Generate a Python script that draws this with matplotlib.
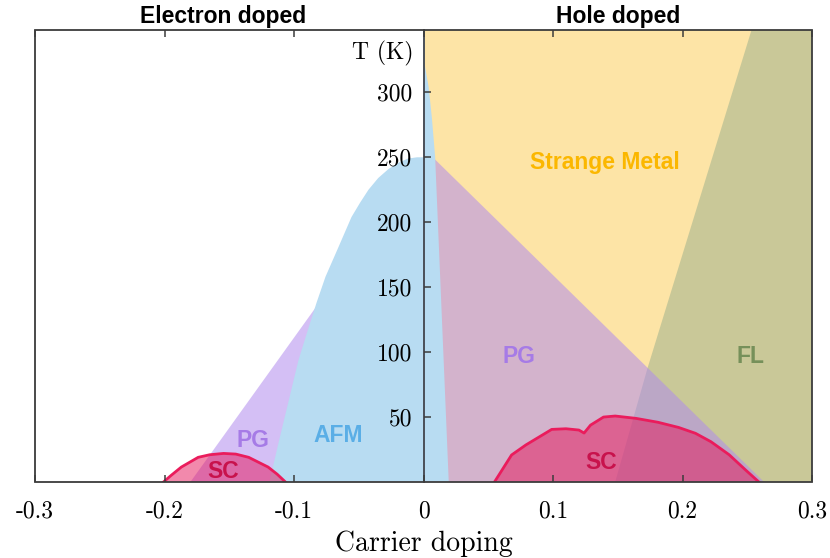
import matplotlib
matplotlib.use("Agg")
import matplotlib.pyplot as plt
from matplotlib.patches import Polygon, Rectangle
from matplotlib.transforms import blended_transform_factory

# ---- axis extents -------------------------------------------------------
x_min, x_max = -0.3, 0.3
t_max = 348

x_ticks = [-0.3, -0.2, -0.1, 0.0, 0.1, 0.2, 0.3]
x_tick_labels = ["-0.3", "-0.2", "-0.1", "0", "0.1", "0.2", "0.3"]
t_ticks = [50, 100, 150, 200, 250, 300]
t_tick_labels = ["50", "100", "150", "200", "250", "300"]

# ---- phase boundaries (doping, temperature in K) ------------------------
# antiferromagnet, electron-doped side (left edge, bottom to apex)
afm_e_x = [-0.119, -0.112, -0.104, -0.0965, -0.089, -0.0826, -0.0757,
           -0.0656, -0.0556, -0.049, -0.0425, -0.035, -0.027, -0.019,
           -0.012, -0.005, 0.0]
afm_e_t = [0, 30, 63, 94, 118, 138, 158, 181, 204, 215, 225, 234, 241,
           246, 249, 250, 250]
# antiferromagnet, hole-doped sliver (right edge, top to bottom)
afm_h_x = [0.0, 0.0015, 0.004, 0.0065, 0.009, 0.0195]
afm_h_t = [326, 318, 304, 280, 250, 0]

# pseudogap
pg_x = [-0.18, 0.0, 0.0, 0.263]
pg_t = [0, 250, 257, 0]

# Fermi-liquid crossover (top to bottom)
fl_x = [0.2533, 0.173, 0.148]
fl_t = [348, 87.7, 0]

# superconducting domes
sc_e_x = [-0.2008, -0.195, -0.187, -0.174, -0.165, -0.1544, -0.145,
          -0.135, -0.12, -0.113, -0.1066]
sc_e_t = [0, 5, 11.5, 19, 21, 22, 21.5, 19, 11.5, 6, 0]
sc_h_x = [0.0548, 0.068, 0.079, 0.099, 0.110, 0.120, 0.124, 0.129, 0.139,
          0.148, 0.164, 0.181, 0.197, 0.210, 0.222, 0.236, 0.249, 0.259]
sc_h_t = [0, 20.8, 28.5, 40.5, 41, 40, 37.7, 43.8, 50, 50.8, 49, 46, 42,
          37.5, 31, 21, 9, 0]

# ---- region labels -------------------------------------------------------
labels = ["Strange Metal", "FL", "PG", "PG", "AFM", "SC", "SC"]
label_x = [0.14, 0.2525, 0.0734, -0.132, -0.0656, -0.1544, 0.1375]
label_t = [246, 97, 97, 32, 36, 8, 15]
label_colors = ["#fbb700", "#76905a", "#a67be6", "#a67be6", "#5aaee6",
                "#c8124c", "#c8124c"]

# ---- colours -------------------------------------------------------------
c_sm = "#fde4a6"
c_fl = "#c9c898"
c_pg = (177 / 255, 140 / 255, 237 / 255)
c_afm = "#b8dcf2"
c_sc = (230 / 255, 20 / 255, 90 / 255)
c_sc_edge = "#ea1c5c"

serif = "cmr10"
sans = ["Liberation Sans", "DejaVu Sans"]

fig = plt.figure(figsize=(8.3, 5.58), dpi=100)
ax = fig.add_axes([35 / 830, 1 - 482 / 558, (812 - 35) / 830, (482 - 30) / 558])
ax.set_xlim(x_min, x_max)
ax.set_ylim(0, t_max)

# strange metal background on the hole-doped side
ax.fill_between([0.0, x_max], 0, t_max, color=c_sm, lw=0, zorder=1)

# Fermi liquid
fl_poly = list(zip(fl_x, fl_t)) + [(x_max, 0), (x_max, t_max)]
ax.add_patch(Polygon(fl_poly, closed=True, fc=c_fl, ec="none", zorder=2))

# pseudogap (translucent)
ax.add_patch(Polygon(list(zip(pg_x, pg_t)), closed=True, fc=c_pg,
                     alpha=0.55, ec="none", zorder=3))

# antiferromagnet
afm_poly = list(zip(afm_e_x + afm_h_x, afm_e_t + afm_h_t))
ax.add_patch(Polygon(afm_poly, closed=True, fc=c_afm, ec="none", zorder=4))

# superconducting domes
for xs, ts in [(sc_e_x, sc_e_t), (sc_h_x, sc_h_t)]:
    ax.fill(xs, ts, color=c_sc, alpha=0.5, lw=0, zorder=5)
    ax.plot(xs, ts, color=c_sc_edge, lw=2.0, zorder=6, solid_joinstyle="round")

for s, x, t, c in zip(labels, label_x, label_t, label_colors):
    ax.text(x, t, s, color=c, fontsize=16.5, fontweight="bold",
            family=sans, ha="center", va="center", zorder=7)

# ---- axes styling --------------------------------------------------------
edge = "#3c3c3c"
for side in ["top", "bottom", "right"]:
    ax.spines[side].set_visible(False)
ax.spines["left"].set_position(("data", 0))
ax.spines["left"].set_color("#4a4f58")
ax.spines["left"].set_linewidth(1.4)
ax.spines["left"].set_zorder(8)
ax.add_patch(Rectangle((0, 0), 1, 1, transform=ax.transAxes, fill=False,
                       ec=edge, lw=1.3, zorder=9, clip_on=False))
# keep ticks and tick labels above the filled regions
ax.xaxis.set_zorder(10)
ax.yaxis.set_zorder(10)

ax.set_xticks(x_ticks)
ax.set_xticklabels(x_tick_labels, family=serif, fontsize=17)
ax.set_yticks(t_ticks)
ax.set_yticklabels(t_tick_labels, family=serif, fontsize=17)
ax.tick_params(axis="x", direction="in", top=True, bottom=True, length=5,
               width=1.1, color=edge, pad=13)
ax.tick_params(axis="y", direction="in", length=5, width=1.1, color=edge,
               pad=8)

ax.set_xlabel("Carrier doping", family=serif, fontsize=20, labelpad=6)
ax.annotate("T (K)", xy=(0, 330), xytext=(-7, 0), textcoords="offset points",
            ha="right", va="center", family=serif, fontsize=17, zorder=10)

top = blended_transform_factory(ax.transData, ax.transAxes)
ax.text(-0.155, 1.004, "Electron doped", transform=top, ha="center",
        va="bottom", family=sans, fontsize=16.5, fontweight="bold")
ax.text(0.15, 1.004, "Hole doped", transform=top, ha="center",
        va="bottom", family=sans, fontsize=16.5, fontweight="bold")

fig.savefig("out.png", dpi=100)
